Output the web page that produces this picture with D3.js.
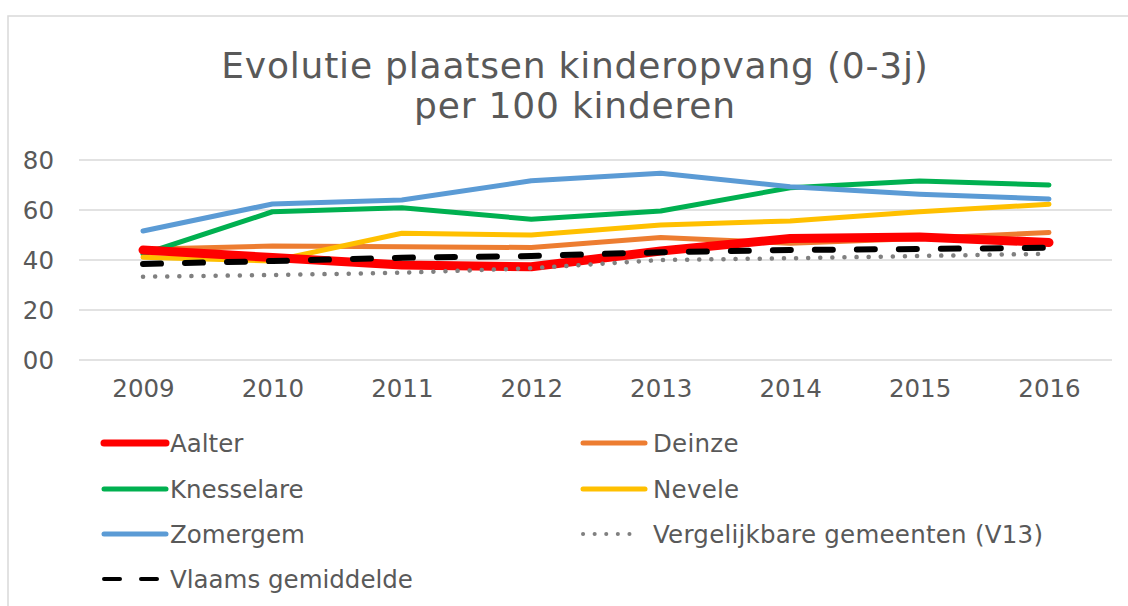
<!DOCTYPE html>
<html><head><meta charset="utf-8">
<script src="https://cdn.jsdelivr.net/npm/d3@7"></script>
<style>html,body{margin:0;padding:0;background:#fff;}svg{display:block;}</style>
</head><body>
<svg id="chart" width="1128" height="606"></svg>
<script>
const years = ["2009","2010","2011","2012","2013","2014","2015","2016"];
const yTicks = [0, 20, 40, 60, 80];
const aalter = [44, 41, 38, 37.3, 43.6, 48.6, 49.2, 47];
const deinze = [44.3, 45.6, 45.3, 45, 49, 46.7, 48.6, 51];
const knesselare = [42.3, 59.3, 60.9, 56.3, 59.6, 68.9, 71.6, 70];
const nevele = [41.1, 39.6, 50.7, 50, 54, 55.6, 59.3, 62.3];
const zomergem = [51.6, 62.4, 64, 71.7, 74.7, 69.3, 66.3, 64.4];
const v13 = [33.3, 34, 34.9, 36.7, 40, 40.7, 41.6, 42.5];
const vlaams = [38.4, 39.6, 40.9, 41.6, 43.1, 44, 44.4, 44.9];

const series = [
  {name:"Aalter", values:aalter, color:"#FF0000", width:9, dash:null, col:0, row:0},
  {name:"Deinze", values:deinze, color:"#ED7D31", width:5, dash:null, col:1, row:0},
  {name:"Knesselare", values:knesselare, color:"#00B050", width:5, dash:null, col:0, row:1},
  {name:"Nevele", values:nevele, color:"#FFC000", width:5, dash:null, col:1, row:1},
  {name:"Zomergem", values:zomergem, color:"#5B9BD5", width:5, dash:null, col:0, row:2},
  {name:"Vergelijkbare gemeenten (V13)", values:v13, color:"#808080", width:4.5, dash:"0.1,12", col:1, row:2},
  {name:"Vlaams gemiddelde", values:vlaams, color:"#000000", width:6, dash:"18,24", col:0, row:3}
];

const svg = d3.select("#chart");
const font = "DejaVu Sans, Verdana, sans-serif";
const fs = 24.5;

// outer frame
svg.append("rect").attr("x",8).attr("y",16).attr("width",1140).attr("height",620)
  .attr("fill","#fff").attr("stroke","#D9D9D9").attr("stroke-width",1.5);

// title
const title = svg.append("text").attr("text-anchor","middle").attr("font-family",font)
  .attr("font-size",36).attr("letter-spacing",0.8).attr("fill","#595959");
title.append("tspan").attr("x",575).attr("y",78).text("Evolutie plaatsen kinderopvang (0-3j)");
title.append("tspan").attr("x",575).attr("y",118).text("per 100 kinderen");

const x = d3.scalePoint().domain(years).range([143, 1049]);
const y = d3.scaleLinear().domain([0, 80]).range([360, 160]);

// gridlines
svg.append("g").selectAll("line").data(yTicks).join("line")
  .attr("x1",79).attr("x2",1112).attr("y1",d=>y(d)).attr("y2",d=>y(d))
  .attr("stroke","#D9D9D9").attr("stroke-width",1.5);

// y axis labels
const yAxis = d3.axisLeft(y).tickValues(yTicks).tickSize(0).tickPadding(0).tickFormat(d3.format("02d"));
const gy = svg.append("g").attr("transform","translate(54,0)").call(yAxis);
gy.select(".domain").remove();
gy.selectAll("text").attr("font-family",font).attr("font-size",fs).attr("fill","#595959").attr("dy","0.35em");

// x axis labels
const xAxis = d3.axisBottom(x).tickSize(0).tickPadding(0);
const gx = svg.append("g").attr("transform","translate(0,380)").call(xAxis);
gx.select(".domain").remove();
gx.selectAll("text").attr("font-family",font).attr("font-size",fs).attr("fill","#595959").attr("dy","0.71em");

// lines
const line = d3.line().x((d,i)=>x(years[i])).y(d=>y(d));
const orderedSeries = [series[1], series[2], series[3], series[4], series[0], series[5], series[6]];
svg.append("g").selectAll("path").data(orderedSeries).join("path")
  .attr("d", d=>line(d.values))
  .attr("fill","none").attr("stroke",d=>d.color).attr("stroke-width",d=>d.width)
  .attr("stroke-linecap","round").attr("stroke-linejoin","round")
  .attr("stroke-dasharray",d=>d.dash);

// legend
const colX = [104, 583];
const rowY = [443, 489, 534, 579];
const lg = svg.append("g").selectAll("g").data(series).join("g")
  .attr("transform",d=>`translate(${colX[d.col]},${rowY[d.row]})`);
lg.append("line").attr("x1",0).attr("x2",d=>d.name==="Vergelijkbare gemeenten (V13)"?58:62).attr("y1",0).attr("y2",0)
  .attr("stroke",d=>d.color).attr("stroke-width",d=>d.name==="Aalter"?7:(d.dash?4:5))
  .attr("stroke-linecap","round")
  .attr("stroke-dasharray",d=>d.name==="Vlaams gemiddelde"?"16,21":(d.dash?"0.1,11.5":null));
lg.append("text").attr("x",d=>d.col===0?66:70).attr("y",0).attr("dy","0.35em")
  .attr("font-family",font).attr("font-size",fs).attr("letter-spacing",d=>d.col===0?0:0.25)
  .attr("fill","#595959").text(d=>d.name);
</script>
</body></html>
